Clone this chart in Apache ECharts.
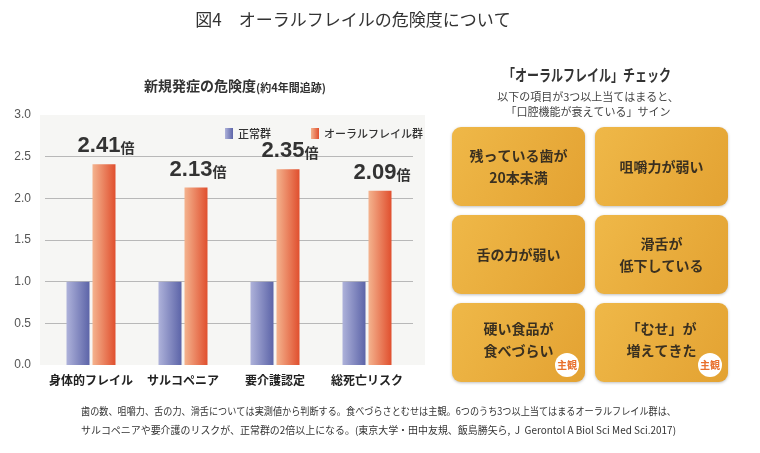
<!DOCTYPE html>
<html><head><meta charset="utf-8">
<script src="https://cdn.jsdelivr.net/npm/echarts@6/dist/echarts.min.js"></script>
<style>html,body{margin:0;padding:0;background:#fff}#c{width:760px;height:453px}</style>
</head><body><div id="c"></div>
<script>
const categories = ['身体的フレイル', 'サルコペニア', '要介護認定', '総死亡リスク'];
const seriesNames = ['正常群', 'オーラルフレイル群'];
const normalValues = [1, 1, 1, 1];
const oralValues = [2.41, 2.13, 2.35, 2.09];
const yMin = 0, yMax = 3, yStep = 0.5;
const checkItems = ['残っている歯が\n20本未満', '咀嚼力が弱い', '舌の力が弱い', '滑舌が\n低下している', '硬い食品が\n食べづらい', '「むせ」が\n増えてきた'];
const subjective = [false, false, false, false, true, true];
const titleText = '図4　オーラルフレイルの危険度について';
const chartTitle = '新規発症の危険度';
const chartTitleSub = '(約4年間追跡)';
const checkTitle = '「オーラルフレイル」チェック';
const checkSub = ['以下の項目が3つ以上当てはまると、', '「口腔機能が衰えている」サイン'];
const footnote = ['歯の数、咀嚼力、舌の力、滑舌については実測値から判断する。食べづらさとむせは主観。6つのうち3つ以上当てはまるオーラルフレイル群は、',
  'サルコペニアや要介護のリスクが、正常群の2倍以上になる。(東京大学・田中友規、飯島勝矢ら,  J  Gerontol A Biol Sci Med Sci.2017)'];

const FONT = '"Noto Sans CJK JP", "Noto Sans", sans-serif';
const ctx = document.createElement('canvas').getContext('2d');
function textWidth(t, font) { ctx.font = font; return ctx.measureText(t).width; }

const chart = echarts.init(document.getElementById('c'), null, {renderer: 'canvas'});

const graphics = [];
graphics.push({type: 'rect', z: -10, shape: {x: 40, y: 115, width: 385, height: 250}, style: {fill: '#f6f6f4'}, silent: true});
graphics.push({type: 'text', x: 353, y: 20, style: {text: titleText, font: 'normal 17px ' + FONT, fill: '#333', align: 'center', verticalAlign: 'middle'}});
graphics.push({type: 'text', x: 144, y: 79, style: {text: '{a|' + chartTitle + '}{b|' + chartTitleSub + '}', font: 'bold 14px ' + FONT, fill: '#333',
  rich: {a: {fontFamily: FONT, fontSize: 14, fontWeight: 'bold', fill: '#333'}, b: {fontFamily: FONT, fontSize: 11, fontWeight: 'bold', fill: '#333', padding: [3, 0, 0, 0]}}}});
// check panel
const ctFont = 'bold 16px ' + FONT;
const ctScale = 168 / textWidth(checkTitle, ctFont);
graphics.push({type: 'text', x: 587, y: 75, scaleX: ctScale, style: {text: checkTitle, font: ctFont, fill: '#333', align: 'center', verticalAlign: 'middle'}});
checkSub.forEach((t, i) => graphics.push({type: 'text', x: 588, y: 97 + i * 15, style: {text: t, font: 'normal 11px ' + FONT, fill: '#444', align: 'center', verticalAlign: 'middle'}}));
const boxX = [452, 595], boxY = [127, 215, 303], bw = 133, bh = 79;
checkItems.forEach((t, i) => {
  const col = i % 2, row = Math.floor(i / 2);
  const x = boxX[col], y = boxY[row];
  graphics.push({type: 'rect', shape: {x: x, y: y, width: bw, height: bh, r: 9},
    style: {fill: new echarts.graphic.LinearGradient(0, 0, 1, 1, [{offset: 0, color: '#efb848'}, {offset: 1, color: '#e3a232'}]),
      shadowBlur: 3, shadowColor: 'rgba(0,0,0,0.25)', shadowOffsetY: 1}});
  const dy = subjective[i] ? -3 : 0;
  graphics.push({type: 'text', x: x + bw / 2, y: y + bh / 2 + dy, z: 10, style: {text: t, font: 'bold 14px ' + FONT, fill: '#3a3020', align: 'center', verticalAlign: 'middle', lineHeight: 22}});
  if (subjective[i]) {
    graphics.push({type: 'circle', z: 11, shape: {cx: x + bw - 18, cy: y + bh - 17, r: 12}, style: {fill: '#fff'}});
    graphics.push({type: 'text', z: 12, x: x + bw - 18, y: y + bh - 17, style: {text: '主観', font: 'bold 10px ' + FONT, fill: '#e8702d', align: 'center', verticalAlign: 'middle'}});
  }
});
const fnFont = 'normal 10px ' + FONT;
footnote.forEach((t, i) => {
  const s = 595 / textWidth(t, fnFont);
  graphics.push({type: 'text', x: 81, y: 411 + i * 19, scaleX: s, style: {text: t, font: fnFont, fill: '#333', verticalAlign: 'middle'}});
});

const blueGrad = new echarts.graphic.LinearGradient(0, 0, 1, 0, [{offset: 0, color: '#aeb2da'}, {offset: 1, color: '#5c64a8'}]);
const orangeGrad = new echarts.graphic.LinearGradient(0, 0, 1, 0, [{offset: 0, color: '#f4b38e'}, {offset: 1, color: '#e04f2e'}]);

chart.setOption({
  animation: false,
  backgroundColor: '#fff',
  textStyle: {fontFamily: FONT},
  grid: {left: 45, right: 347, top: 115, bottom: 88, containLabel: false},
  legend: {left: 220, top: 123, itemWidth: 8, itemHeight: 11, itemGap: 40, icon: 'rect',
    textStyle: {fontFamily: FONT, fontSize: 11, color: '#333', fontWeight: 500}, data: seriesNames},
  xAxis: {type: 'category', data: categories, axisLine: {show: false}, axisTick: {show: false},
    axisLabel: {fontFamily: FONT, fontSize: 12, color: '#222', fontWeight: 'bold', margin: 9, interval: 0}},
  yAxis: {type: 'value', min: yMin, max: yMax, interval: yStep,
    axisLabel: {fontFamily: '"Liberation Sans", Arial, sans-serif', fontSize: 12, color: '#555', margin: 14, formatter: v => v.toFixed(1)},
    axisLine: {show: false}, axisTick: {show: false},
    splitLine: {show: true, showMinLine: false, showMaxLine: false, lineStyle: {color: '#b8b8b8', width: 1}}},
  series: [
    {name: seriesNames[0], type: 'bar', data: normalValues, barWidth: 23, barGap: '13%', itemStyle: {color: blueGrad}},
    {name: seriesNames[1], type: 'bar', data: oralValues, barWidth: 23, itemStyle: {color: orangeGrad},
      label: {show: true, position: 'top', distance: 7, offset: [2, 0],
        formatter: p => '{n|' + p.value.toFixed(2) + '}{u|倍}',
        rich: {n: {fontFamily: '"Liberation Sans", Arial, sans-serif', fontSize: 22, fontWeight: 'bold', color: '#333'},
               u: {fontFamily: FONT, fontSize: 14, fontWeight: 'bold', color: '#333', padding: [4, 0, 0, 0]}}}}
  ],
  graphic: graphics
});
</script></body></html>
